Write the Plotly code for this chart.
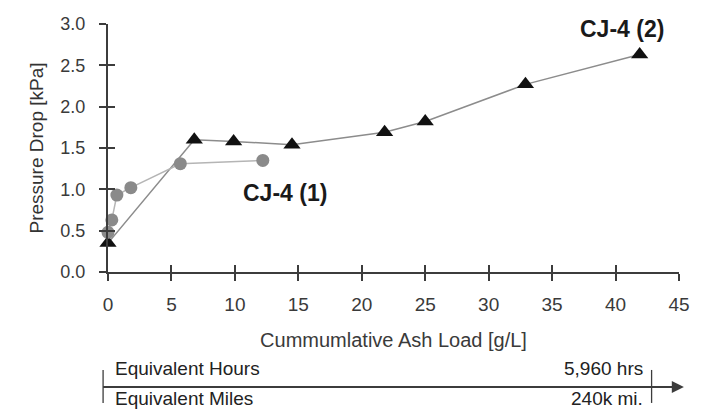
import plotly.graph_objects as go

# Data
cj1_x = [0.0, 0.3, 0.7, 1.8, 5.7, 12.2]
cj1_y = [0.48, 0.63, 0.93, 1.02, 1.31, 1.35]
cj2_x = [0.0, 6.8, 9.9, 14.5, 21.8, 25.0, 32.9, 41.9]
cj2_y = [0.35, 1.6, 1.58, 1.54, 1.69, 1.82, 2.27, 2.63]
x_ticks = [0, 5, 10, 15, 20, 25, 30, 35, 40, 45]
y_ticks = [0.0, 0.5, 1.0, 1.5, 2.0, 2.5, 3.0]

FONT = "Liberation Sans, Arial, sans-serif"
TXT = "#3a3a3a"
AX = "#3c3c3c"

fig = go.Figure()
fig.add_trace(go.Scatter(x=cj2_x, y=cj2_y, mode="lines+markers",
                         line=dict(color="#8c8c8c", width=1.5),
                         marker=dict(symbol="triangle-up", size=15, color="#111111"),
                         cliponaxis=False, showlegend=False))
fig.add_trace(go.Scatter(x=cj1_x, y=cj1_y, mode="lines+markers",
                         line=dict(color="#b5b5b5", width=1.5),
                         marker=dict(symbol="circle", size=13, color="#8a8a8a"),
                         cliponaxis=False, showlegend=False))

fig.update_layout(
    width=702, height=411,
    margin=dict(l=108, r=12, t=24, b=139),
    paper_bgcolor="white", plot_bgcolor="white",
    font=dict(family=FONT, color=TXT, size=18),
    xaxis=dict(range=[0, 45], tickvals=x_ticks, ticks="outside", ticklen=7,
               tickcolor=AX, tickwidth=1.5, showline=True, linecolor=AX, linewidth=2,
               showgrid=False, zeroline=False, ticklabelstandoff=7,
               tickfont=dict(size=19, color=TXT),
               title=dict(text="Cummumlative Ash Load [g/L]", standoff=19,
                          font=dict(size=20, color=TXT))),
    yaxis=dict(range=[0, 3], tickvals=y_ticks, tickformat=".1f", ticks="outside",
               ticklen=7, tickcolor=AX, tickwidth=1.5, showline=True, linecolor=AX,
               linewidth=2, showgrid=False, zeroline=False, ticklabelstandoff=10,
               tickfont=dict(size=18, color=TXT),
               title=dict(text="Pressure Drop [kPa]", standoff=12,
                          font=dict(size=19, color="#333333"))),
    xaxis2=dict(overlaying="x", matches="x", range=[0, 45], tickvals=x_ticks,
                ticks="inside", ticklen=7, tickcolor=AX, tickwidth=1.5,
                showticklabels=False, showgrid=False, zeroline=False,
                side="bottom", anchor="y"),
    yaxis2=dict(overlaying="y", matches="y", range=[0, 3], tickvals=y_ticks,
                ticks="inside", ticklen=7, tickcolor=AX, tickwidth=1.5,
                showticklabels=False, showgrid=False, zeroline=False,
                side="left", anchor="x"),
)
# dummy trace to activate the inner-tick axes
fig.add_trace(go.Scatter(x=[None], y=[None], xaxis="x2", yaxis="y2",
                         showlegend=False, hoverinfo="skip"))

# Series labels
fig.add_annotation(x=cj1_x[-1], y=cj1_y[-1], text="<b>CJ-4 (1)</b>", showarrow=False,
                   xanchor="center", yanchor="middle", xshift=22, yshift=-33,
                   font=dict(size=23, color="#1a1a1a"))
fig.add_annotation(x=cj2_x[-1], y=cj2_y[-1], text="<b>CJ-4 (2)</b>", showarrow=False,
                   xanchor="center", yanchor="middle", xshift=-18, yshift=26,
                   font=dict(size=23, color="#1a1a1a"))

# Equivalent hours / miles scale below the chart (paper coords)
yl = -0.4637
fig.add_shape(type="line", xref="paper", yref="paper", x0=-0.0086, x1=1.0, y0=yl, y1=yl,
              line=dict(color=AX, width=2.2))
for xp in [-0.0086, 0.952]:
    fig.add_shape(type="line", xref="paper", yref="paper", x0=xp, x1=xp,
                  y0=-0.395, y1=-0.528, line=dict(color=AX, width=1.3))
fig.add_annotation(xref="paper", yref="paper", x=1.0086, y=yl, ax=-14, ay=0,
                   showarrow=True, arrowhead=2, arrowsize=1.1, arrowwidth=2.2,
                   arrowcolor=AX, text="")
lab_font = dict(size=19, color="#222")
fig.add_annotation(xref="paper", yref="paper", x=0.008, y=-0.39, text="Equivalent Hours",
                   showarrow=False, xanchor="left", yanchor="middle", font=lab_font)
fig.add_annotation(xref="paper", yref="paper", x=0.008, y=-0.51, text="Equivalent Miles",
                   showarrow=False, xanchor="left", yanchor="middle", font=lab_font)
fig.add_annotation(xref="paper", yref="paper", x=0.941, y=-0.39, text="5,960 hrs",
                   showarrow=False, xanchor="right", yanchor="middle", font=lab_font)
fig.add_annotation(xref="paper", yref="paper", x=0.941, y=-0.51, text="240k mi.",
                   showarrow=False, xanchor="right", yanchor="middle", font=lab_font)

fig.write_html("out.html")
